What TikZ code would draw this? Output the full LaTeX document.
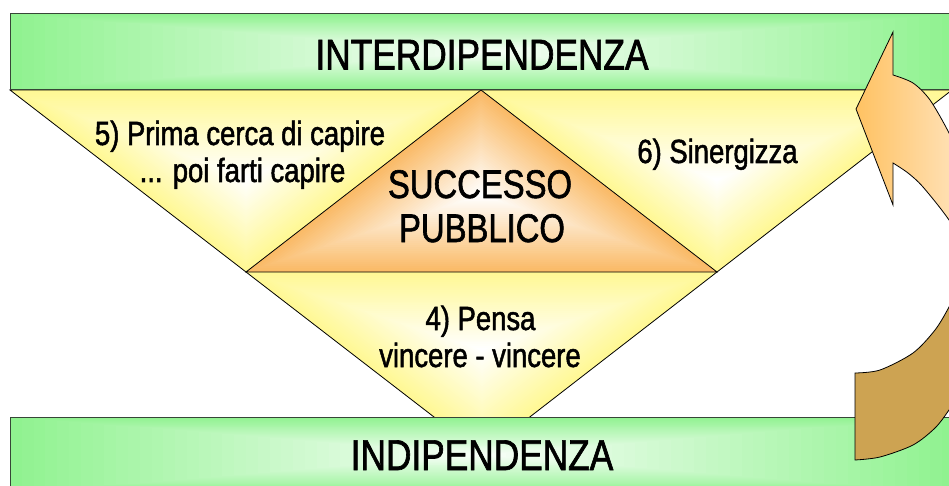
\documentclass[tikz,border=0pt]{standalone}
\usepackage{fontspec}
\setmainfont{Liberation Sans}[FakeStretch=0.82,FakeBold=1.5]
\usetikzlibrary{calc}
\definecolor{bandgreen}{RGB}{144,242,144}
\definecolor{triyellow}{RGB}{255,248,148}
\definecolor{triorange}{RGB}{250,186,102}
\definecolor{arrowtan}{RGB}{205,163,82}
\definecolor{arrowor}{RGB}{255,194,98}
\definecolor{arrowpeach}{RGB}{255,238,218}
\definecolor{edgegray}{RGB}{55,70,55}
\newcommand\gradtri[5]{%
  \foreach \k in {0,...,39}{%
    \pgfmathsetmacro\s{1-\k/40}%
    \pgfmathsetmacro\w{100*\k/39}%
    \fill[white!\w!#1] ($(#2)!\s!(#3)$) -- ($(#2)!\s!(#4)$) -- ($(#2)!\s!(#5)$) -- cycle;
  }}
\newcommand\gradquad[6]{%
  \foreach \k in {0,...,39}{%
    \pgfmathsetmacro\s{1-\k/40}%
    \pgfmathsetmacro\w{92*\k/39}%
    \fill[white!\w!#1] ($(#2)!\s!(#3)$) -- ($(#2)!\s!(#4)$) -- ($(#2)!\s!(#5)$) -- ($(#2)!\s!(#6)$) -- cycle;
  }}
\tikzset{
  triline/.style={draw=black, line width=0.8pt, line join=miter},
  bandline/.style={draw=edgegray, line width=1pt},
  arrowline/.style={draw=black, line width=0.8pt, line join=miter},
  bigtxt/.style={font=\fontsize{43}{50}\selectfont, inner sep=0pt, anchor=base},
  midtxt/.style={font=\fontsize{40}{44}\selectfont, inner sep=0pt, anchor=base},
  smalltxt/.style={font=\fontsize{33.5}{37}\selectfont, inner sep=0pt, anchor=base}
}
\begin{document}
\begin{tikzpicture}[x=1pt,y=-1pt]
\useasboundingbox (0,0) rectangle (949,486);
\clip (0,0) rectangle (949,486);
% triangle vertices
\coordinate (A) at (10,90);
\coordinate (B) at (952,90);
\coordinate (C) at (482,454);
\coordinate (AB) at (481,90);
\coordinate (AC) at (246,272);
\coordinate (BC) at (717,272);
% gradient centres
\coordinate (cUL) at (246,178);
\coordinate (cUR) at (717,180);
\coordinate (cBot) at (482,350);
\coordinate (cMid) at (481,195);
\gradtri{triyellow}{cUL}{A}{AB}{AC}
\gradtri{triyellow}{cUR}{AB}{B}{BC}
\gradtri{triyellow}{cBot}{AC}{BC}{C}
\gradtri{triorange}{cMid}{AB}{AC}{BC}
\path[triline] (A) -- (B) -- (C) -- cycle;
\path[triline] (AB) -- (AC) -- (BC) -- cycle;
% bands
\coordinate (t1) at (10,14);
\coordinate (t2) at (954,14);
\coordinate (t3) at (954,90);
\coordinate (t4) at (10,90);
\coordinate (tc) at (482,52);
\gradquad{bandgreen}{tc}{t1}{t2}{t3}{t4}
\path[bandline] (t1) rectangle (t3);
\coordinate (b1) at (10,417);
\coordinate (b2) at (954,417);
\coordinate (b3) at (954,493);
\coordinate (b4) at (10,493);
\coordinate (bc) at (482,455);
\gradquad{bandgreen}{bc}{b1}{b2}{b3}{b4}
\path[bandline] (b1) rectangle (b3);
% texts
\node[bigtxt] (inter) at (482,69.5) {INTERDIPENDENZA};
\node[bigtxt] (indip) at (482,470) {INDIPENDENZA};
\node[midtxt] (succ) at (480,198) {SUCCESSO};
\node[midtxt] (pubb) at (482,242) {PUBBLICO};
\node[smalltxt] (t5a) at (240,145) {5) Prima cerca di capire};
\node[smalltxt] (t5b) at (242.5,182) {... poi farti capire};
\node[smalltxt] (t6) at (717.5,163) {6) Sinergizza};
\node[smalltxt] (t4a) at (480.5,330) {4) Pensa};
\node[smalltxt] (t4b) at (480,367) {vincere - vincere};
% curved arrow: back face
\path[arrowline, fill=arrowtan]
  plot[smooth] coordinates {(855,373) (880,370) (913,353) (935,330) (949,307) (962,280) (972,250)}
  -- (998,250) -- (998,355) -- (978,355)
  -- plot[smooth] coordinates {(978,355) (965,385) (949,410) (935,428) (913,445) (880,457) (855,460)}
  -- cycle;
% curved arrow: front face with head
\path[arrowline, left color=arrowor, right color=arrowpeach]
  (893,32) -- (856,109) -- (893,205) -- (893,163)
  -- plot[smooth] coordinates {(893,163) (908,173) (923,187) (949,220) (965,250) (978,285)}
  -- (998,285) -- (998,200) -- (975,200)
  -- plot[smooth] coordinates {(975,200) (963,165) (949,133) (930,100) (913,83) (893,75)}
  -- cycle;
\end{tikzpicture}
\end{document}
